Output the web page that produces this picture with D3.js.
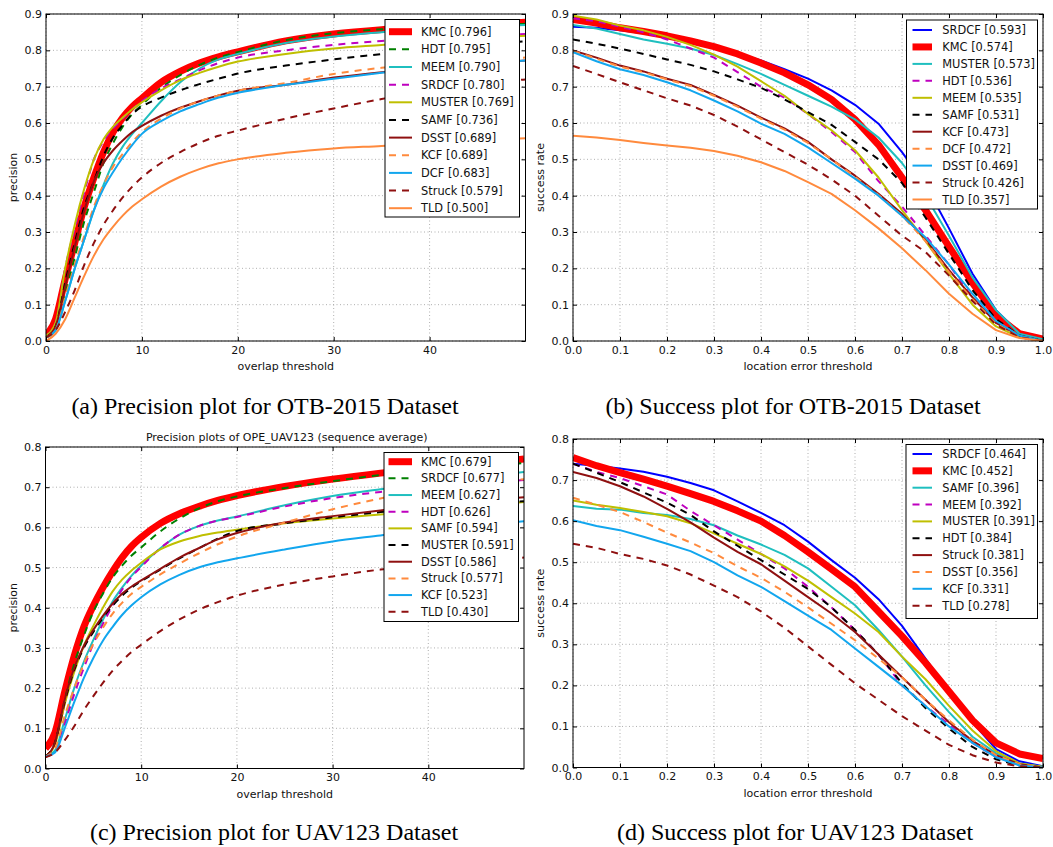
<!DOCTYPE html>
<html>
<head>
<meta charset="utf-8">
<script src="https://cdn.jsdelivr.net/npm/d3@7"></script>
<style>
  body { margin: 0; background: #fff; }
  svg { display: block; font-family: "DejaVu Sans", sans-serif; }
</style>
</head>
<body>
<svg id="fig" width="1053" height="847"></svg>
<script>
// thresholds
const precThresholds = [0, 1, 2, 3, 4, 5, 6, 7, 8, 9, 10, 12, 14, 16, 18, 20, 25, 30, 35, 40, 45, 50];
const succThresholds = [0, 0.05, 0.1, 0.15, 0.2, 0.25, 0.3, 0.35, 0.4, 0.45, 0.5, 0.55, 0.6, 0.65, 0.7, 0.75, 0.8, 0.85, 0.9, 0.95, 1.0];

// (a) precision OTB-2015
const otbPrecNames = ["KMC", "HDT", "MEEM", "SRDCF", "MUSTER", "SAMF", "DSST", "KCF", "DCF", "Struck", "TLD"];
const otbPrecScores = ["0.796", "0.795", "0.790", "0.780", "0.769", "0.736", "0.689", "0.689", "0.683", "0.579", "0.500"];
const otbPrecValues = [
  [0.015, 0.06, 0.17, 0.27, 0.37, 0.45, 0.52, 0.575, 0.615, 0.645, 0.668, 0.712, 0.742, 0.765, 0.782, 0.796, 0.826, 0.845, 0.857, 0.865, 0.871, 0.877],
  [0.01, 0.04, 0.13, 0.23, 0.33, 0.41, 0.49, 0.545, 0.59, 0.625, 0.65, 0.697, 0.732, 0.76, 0.78, 0.795, 0.828, 0.847, 0.858, 0.864, 0.869, 0.873],
  [0.01, 0.03, 0.11, 0.2, 0.28, 0.36, 0.43, 0.49, 0.535, 0.57, 0.6, 0.66, 0.712, 0.75, 0.775, 0.79, 0.82, 0.838, 0.85, 0.858, 0.865, 0.87],
  [0.015, 0.05, 0.2, 0.31, 0.41, 0.5, 0.55, 0.585, 0.612, 0.638, 0.66, 0.695, 0.72, 0.745, 0.765, 0.78, 0.8, 0.815, 0.826, 0.834, 0.84, 0.845],
  [0.015, 0.05, 0.2, 0.32, 0.42, 0.5, 0.555, 0.59, 0.615, 0.638, 0.657, 0.69, 0.718, 0.738, 0.755, 0.769, 0.79, 0.805, 0.815, 0.825, 0.833, 0.84],
  [0.01, 0.04, 0.16, 0.27, 0.37, 0.44, 0.51, 0.56, 0.595, 0.625, 0.645, 0.67, 0.69, 0.707, 0.722, 0.736, 0.758, 0.775, 0.79, 0.805, 0.816, 0.825],
  [0.01, 0.04, 0.15, 0.26, 0.36, 0.44, 0.49, 0.525, 0.552, 0.575, 0.592, 0.62, 0.642, 0.66, 0.676, 0.689, 0.705, 0.725, 0.74, 0.752, 0.763, 0.772],
  [0.01, 0.03, 0.12, 0.21, 0.29, 0.37, 0.43, 0.48, 0.515, 0.548, 0.575, 0.612, 0.64, 0.66, 0.676, 0.689, 0.71, 0.735, 0.752, 0.765, 0.773, 0.78],
  [0.01, 0.03, 0.11, 0.2, 0.28, 0.36, 0.42, 0.465, 0.505, 0.54, 0.57, 0.605, 0.632, 0.652, 0.67, 0.683, 0.705, 0.722, 0.738, 0.752, 0.763, 0.772],
  [0.01, 0.03, 0.08, 0.14, 0.21, 0.27, 0.32, 0.36, 0.395, 0.425, 0.45, 0.49, 0.52, 0.545, 0.565, 0.579, 0.612, 0.64, 0.666, 0.69, 0.706, 0.72],
  [0.0, 0.02, 0.06, 0.12, 0.18, 0.235, 0.28, 0.315, 0.345, 0.37, 0.39, 0.425, 0.452, 0.473, 0.489, 0.5, 0.518, 0.53, 0.537, 0.545, 0.552, 0.558]
];

// (b) success OTB-2015
const otbSuccNames = ["SRDCF", "KMC", "MUSTER", "HDT", "MEEM", "SAMF", "KCF", "DCF", "DSST", "Struck", "TLD"];
const otbSuccScores = ["0.593", "0.574", "0.573", "0.536", "0.535", "0.531", "0.473", "0.472", "0.469", "0.426", "0.357"];
const otbSuccValues = [
  [0.865, 0.862, 0.855, 0.847, 0.838, 0.826, 0.81, 0.792, 0.772, 0.748, 0.722, 0.69, 0.65, 0.598, 0.52, 0.43, 0.31, 0.185, 0.085, 0.022, 0.005],
  [0.885, 0.875, 0.862, 0.852, 0.84, 0.826, 0.81, 0.79, 0.765, 0.738, 0.705, 0.665, 0.61, 0.54, 0.45, 0.36, 0.26, 0.16, 0.07, 0.02, 0.005],
  [0.87, 0.86, 0.845, 0.83, 0.818, 0.805, 0.787, 0.762, 0.735, 0.705, 0.675, 0.645, 0.61, 0.56, 0.49, 0.4, 0.29, 0.175, 0.085, 0.02, 0.005],
  [0.888, 0.88, 0.865, 0.85, 0.83, 0.805, 0.78, 0.74, 0.7, 0.67, 0.625, 0.575, 0.52, 0.44, 0.37, 0.29, 0.21, 0.12, 0.05, 0.01, 0.0],
  [0.895, 0.885, 0.868, 0.855, 0.837, 0.815, 0.788, 0.755, 0.715, 0.675, 0.625, 0.58, 0.525, 0.45, 0.36, 0.275, 0.185, 0.1, 0.04, 0.01, 0.0],
  [0.83, 0.818, 0.805, 0.79, 0.775, 0.76, 0.742, 0.72, 0.697, 0.665, 0.63, 0.595, 0.548, 0.5, 0.435, 0.34, 0.24, 0.14, 0.06, 0.015, 0.0],
  [0.8, 0.78, 0.758, 0.742, 0.722, 0.705, 0.677, 0.648, 0.615, 0.585, 0.548, 0.5, 0.455, 0.405, 0.35, 0.28, 0.195, 0.12, 0.05, 0.015, 0.0],
  [0.798, 0.777, 0.755, 0.74, 0.72, 0.702, 0.675, 0.645, 0.612, 0.582, 0.545, 0.5, 0.452, 0.402, 0.345, 0.275, 0.19, 0.115, 0.048, 0.012, 0.0],
  [0.795, 0.77, 0.748, 0.732, 0.712, 0.69, 0.662, 0.632, 0.598, 0.57, 0.533, 0.49, 0.447, 0.4, 0.345, 0.285, 0.21, 0.13, 0.055, 0.015, 0.0],
  [0.757, 0.735, 0.712, 0.69, 0.668, 0.648, 0.622, 0.59, 0.555, 0.52, 0.485, 0.445, 0.4, 0.345, 0.29, 0.245, 0.18, 0.11, 0.045, 0.01, 0.0],
  [0.565, 0.56, 0.553, 0.545, 0.538, 0.532, 0.523, 0.51, 0.492, 0.468, 0.437, 0.405, 0.36, 0.31, 0.255, 0.195, 0.13, 0.075, 0.03, 0.008, 0.0]
];

// (c) precision UAV123
const uavPrecNames = ["KMC", "SRDCF", "MEEM", "HDT", "SAMF", "MUSTER", "DSST", "Struck", "KCF", "TLD"];
const uavPrecScores = ["0.679", "0.677", "0.627", "0.626", "0.594", "0.591", "0.586", "0.577", "0.523", "0.430"];
const uavPrecValues = [
  [0.05, 0.09, 0.19, 0.28, 0.352, 0.405, 0.45, 0.49, 0.525, 0.553, 0.575, 0.61, 0.634, 0.652, 0.667, 0.679, 0.702, 0.72, 0.735, 0.748, 0.758, 0.77],
  [0.03, 0.065, 0.17, 0.26, 0.33, 0.39, 0.435, 0.475, 0.505, 0.53, 0.55, 0.59, 0.622, 0.647, 0.665, 0.677, 0.698, 0.715, 0.73, 0.741, 0.75, 0.76],
  [0.03, 0.045, 0.12, 0.2, 0.265, 0.32, 0.37, 0.415, 0.45, 0.48, 0.505, 0.548, 0.582, 0.603, 0.617, 0.627, 0.655, 0.678, 0.695, 0.71, 0.724, 0.738],
  [0.03, 0.04, 0.11, 0.185, 0.25, 0.31, 0.36, 0.405, 0.445, 0.477, 0.502, 0.548, 0.582, 0.603, 0.617, 0.626, 0.652, 0.673, 0.688, 0.698, 0.708, 0.718],
  [0.03, 0.06, 0.16, 0.24, 0.305, 0.355, 0.4, 0.44, 0.47, 0.493, 0.512, 0.545, 0.565, 0.578, 0.587, 0.594, 0.61, 0.622, 0.632, 0.642, 0.652, 0.663],
  [0.03, 0.065, 0.165, 0.245, 0.3, 0.34, 0.375, 0.405, 0.43, 0.45, 0.466, 0.495, 0.523, 0.548, 0.572, 0.591, 0.61, 0.625, 0.638, 0.648, 0.657, 0.665],
  [0.03, 0.065, 0.17, 0.25, 0.305, 0.345, 0.38, 0.41, 0.435, 0.453, 0.468, 0.497, 0.525, 0.548, 0.57, 0.586, 0.612, 0.628, 0.642, 0.655, 0.665, 0.675],
  [0.03, 0.05, 0.13, 0.2, 0.26, 0.31, 0.35, 0.385, 0.412, 0.435, 0.452, 0.483, 0.51, 0.535, 0.558, 0.577, 0.612, 0.645, 0.672, 0.695, 0.71, 0.72],
  [0.03, 0.04, 0.1, 0.165, 0.225, 0.275, 0.318, 0.352, 0.382, 0.406, 0.426, 0.458, 0.482, 0.5, 0.513, 0.523, 0.545, 0.565, 0.58, 0.595, 0.605, 0.615],
  [0.028, 0.04, 0.07, 0.105, 0.145, 0.18, 0.213, 0.243, 0.268, 0.29, 0.308, 0.342, 0.371, 0.395, 0.414, 0.43, 0.458, 0.478, 0.495, 0.505, 0.515, 0.525]
];

// (d) success UAV123
const uavSuccNames = ["SRDCF", "KMC", "SAMF", "MEEM", "MUSTER", "HDT", "Struck", "DSST", "KCF", "TLD"];
const uavSuccScores = ["0.464", "0.452", "0.396", "0.392", "0.391", "0.384", "0.381", "0.356", "0.331", "0.278"];
const uavSuccValues = [
  [0.74, 0.735, 0.728, 0.72, 0.708, 0.693, 0.675, 0.648, 0.62, 0.59, 0.55, 0.505, 0.462, 0.41, 0.345, 0.265, 0.185, 0.11, 0.045, 0.015, 0.003],
  [0.755, 0.735, 0.718, 0.702, 0.685, 0.667, 0.648, 0.625, 0.6, 0.565, 0.525, 0.483, 0.44, 0.38, 0.32, 0.255, 0.185, 0.115, 0.06, 0.033, 0.022],
  [0.637, 0.63, 0.628, 0.62, 0.615, 0.605, 0.59, 0.565, 0.543, 0.518, 0.485, 0.44, 0.395, 0.335, 0.27, 0.2, 0.135, 0.075, 0.035, 0.01, 0.002],
  [0.74, 0.72, 0.705, 0.685, 0.665, 0.625, 0.59, 0.555, 0.52, 0.485, 0.44, 0.39, 0.335, 0.275, 0.2, 0.15, 0.105, 0.06, 0.025, 0.005, 0.0],
  [0.65, 0.64, 0.632, 0.622, 0.612, 0.595, 0.57, 0.545, 0.52, 0.49, 0.455, 0.415, 0.375, 0.33, 0.27, 0.215, 0.15, 0.09, 0.04, 0.01, 0.002],
  [0.74, 0.718, 0.695, 0.67, 0.645, 0.615, 0.575, 0.54, 0.505, 0.47, 0.435, 0.39, 0.335, 0.275, 0.205, 0.145, 0.095, 0.05, 0.02, 0.005, 0.0],
  [0.72, 0.705, 0.685, 0.66, 0.63, 0.597, 0.56, 0.525, 0.495, 0.455, 0.415, 0.375, 0.33, 0.275, 0.22, 0.165, 0.11, 0.065, 0.03, 0.008, 0.0],
  [0.657, 0.64, 0.622, 0.598, 0.572, 0.548, 0.522, 0.49, 0.462, 0.428, 0.39, 0.35, 0.31, 0.265, 0.22, 0.165, 0.115, 0.068, 0.03, 0.008, 0.0],
  [0.602, 0.588, 0.578, 0.562, 0.545, 0.527, 0.5, 0.468, 0.44, 0.405, 0.37, 0.335, 0.29, 0.245, 0.2, 0.15, 0.1, 0.06, 0.025, 0.005, 0.0],
  [0.545, 0.535, 0.52, 0.508, 0.492, 0.47, 0.443, 0.415, 0.38, 0.34, 0.295, 0.25, 0.205, 0.165, 0.125, 0.09, 0.055, 0.03, 0.012, 0.003, 0.0]
];

// line styles
const DASH = "7,6";
const sRed = { color: "#ff0000", width: 7, dash: null };
const sGreenD = { color: "#008000", width: 2, dash: DASH };
const sCyan = { color: "#1fbfbf", width: 2, dash: null };
const sMagentaD = { color: "#bf00bf", width: 2, dash: DASH };
const sOlive = { color: "#bfbf00", width: 2, dash: null };
const sBlackD = { color: "#000000", width: 2, dash: DASH };
const sMaroon = { color: "#8f1010", width: 2, dash: null };
const sOrangeD = { color: "#ff8a3d", width: 2, dash: DASH };
const sSky = { color: "#12a6ee", width: 2, dash: null };
const sMaroonD = { color: "#8f1010", width: 2, dash: DASH };
const sOrange = { color: "#ff8a3d", width: 2, dash: null };
const sBlue = { color: "#0000ff", width: 2, dash: null };

var svg = d3.select("#fig");

function drawPanel(p) {
    var x = d3.scaleLinear().domain(p.xDomain).range([p.left, p.right]);
    var y = d3.scaleLinear().domain(p.yDomain).range([p.bottom, p.top]);
    var g = svg.append("g");

    // сетка
    g.append("g").selectAll("line").data(p.xTicks).enter().append("line")
        .attr("x1", d => x(d)).attr("x2", d => x(d))
        .attr("y1", p.top).attr("y2", p.bottom)
        .attr("stroke", "#9a9a9a").attr("stroke-width", 0.8).attr("stroke-dasharray", "1,2.5");
    g.append("g").selectAll("line").data(p.yTicks).enter().append("line")
        .attr("x1", p.left).attr("x2", p.right)
        .attr("y1", d => y(d)).attr("y2", d => y(d))
        .attr("stroke", "#9a9a9a").attr("stroke-width", 0.8).attr("stroke-dasharray", "1,2.5");

    // кривые
    var clipId = "clip-" + p.id;
    svg.append("clipPath").attr("id", clipId).append("rect")
        .attr("x", p.left).attr("y", p.top)
        .attr("width", p.right - p.left).attr("height", p.bottom - p.top);

    var line = d3.line()
        .x((d, i) => x(p.xs[i]))
        .y(d => y(d))
        .curve(p.smooth ? d3.curveMonotoneX : d3.curveLinear);

    var curves = g.append("g").attr("clip-path", `url(#${clipId})`);
    p.values.forEach(function(vals, i) {
        var s = p.styles[i];
        curves.append("path")
            .datum(vals)
            .attr("d", line)
            .attr("fill", "none")
            .attr("stroke", s.color)
            .attr("stroke-width", s.width)
            .attr("stroke-dasharray", s.dash)
            .attr("stroke-linejoin", "round");
    });

    // оси
    var fmtY = d3.format(".1f");
    g.append("g").attr("transform", `translate(0,${p.bottom})`)
        .call(d3.axisBottom(x).tickValues(p.xTicks).tickFormat(p.xFormat).tickSizeInner(-4).tickSizeOuter(0).tickPadding(5))
        .call(ax => ax.select(".domain").remove());
    g.append("g").attr("transform", `translate(0,${p.top})`)
        .call(d3.axisTop(x).tickValues(p.xTicks).tickFormat("").tickSizeInner(-4).tickSizeOuter(0))
        .call(ax => ax.select(".domain").remove());
    g.append("g").attr("transform", `translate(${p.left},0)`)
        .call(d3.axisLeft(y).tickValues(p.yTicks).tickFormat(fmtY).tickSizeInner(-4).tickSizeOuter(0).tickPadding(4))
        .call(ax => ax.select(".domain").remove());
    g.append("g").attr("transform", `translate(${p.right},0)`)
        .call(d3.axisRight(y).tickValues(p.yTicks).tickFormat("").tickSizeInner(-4).tickSizeOuter(0))
        .call(ax => ax.select(".domain").remove());
    g.selectAll(".tick text").attr("font-size", 11).attr("fill", "#111")
        .attr("font-family", "DejaVu Sans");
    g.selectAll(".tick line").attr("stroke", "#000");

    g.append("rect")
        .attr("x", p.left).attr("y", p.top)
        .attr("width", p.right - p.left).attr("height", p.bottom - p.top)
        .attr("fill", "none").attr("stroke", "#000").attr("stroke-width", 1);

    // подписи осей
    g.append("text")
        .attr("x", (p.left + p.right) / 2).attr("y", p.bottom + 26)
        .attr("text-anchor", "middle").attr("dominant-baseline", "middle")
        .attr("font-size", 11).attr("fill", "#111")
        .text(p.xLabel);
    g.append("text")
        .attr("transform", `translate(${p.left - 32},${(p.top + p.bottom) / 2}) rotate(-90)`)
        .attr("text-anchor", "middle").attr("dominant-baseline", "middle")
        .attr("font-size", 11).attr("fill", "#111")
        .text(p.yLabel);
    if (p.title) {
        g.append("text")
            .attr("x", (p.left + p.right) / 2 + 2).attr("y", p.top - 9)
            .attr("text-anchor", "middle").attr("dominant-baseline", "middle")
            .attr("font-size", 11).attr("fill", "#111")
            .text(p.title);
    }

    // легенда
    var L = p.legend;
    var lg = g.append("g");
    lg.append("rect")
        .attr("x", L.x0).attr("y", L.y0)
        .attr("width", L.x1 - L.x0).attr("height", L.y1 - L.y0)
        .attr("fill", "#fff").attr("stroke", "#000").attr("stroke-width", 1);
    p.names.forEach(function(name, i) {
        var s = p.styles[i];
        var yy = L.row0 + i * L.dy;
        lg.append("line")
            .attr("x1", L.lx0).attr("x2", L.lx1)
            .attr("y1", yy).attr("y2", yy)
            .attr("stroke", s.color).attr("stroke-width", s.width)
            .attr("stroke-dasharray", s.dash);
        lg.append("text")
            .attr("x", L.tx).attr("y", yy)
            .attr("dominant-baseline", "central")
            .attr("font-size", 11.4).attr("fill", "#111")
            .text(`${name} [${p.scores[i]}]`);
    });

    // подпись рисунка
    svg.append("text")
        .attr("x", p.capX).attr("y", p.capY)
        .attr("text-anchor", "middle").attr("dominant-baseline", "middle")
        .style("font-family", "'Liberation Serif', 'Times New Roman', serif")
        .style("font-size", "24px").attr("fill", "#000")
        .text(p.caption);
}

var precXTicks = [0, 10, 20, 30, 40];
var succXTicks = [0, 0.1, 0.2, 0.3, 0.4, 0.5, 0.6, 0.7, 0.8, 0.9, 1.0];
var topYTicks = [0, 0.1, 0.2, 0.3, 0.4, 0.5, 0.6, 0.7, 0.8, 0.9];
var botYTicks = [0, 0.1, 0.2, 0.3, 0.4, 0.5, 0.6, 0.7, 0.8];

drawPanel({
    id: "a", left: 46, right: 525.5, top: 14, bottom: 341,
    xDomain: [0, 50], yDomain: [0, 0.9], xTicks: precXTicks, yTicks: topYTicks,
    xFormat: d3.format("d"), smooth: true,
    xs: precThresholds, names: otbPrecNames, scores: otbPrecScores, values: otbPrecValues,
    styles: [sRed, sGreenD, sCyan, sMagentaD, sOlive, sBlackD, sMaroon, sOrangeD, sSky, sMaroonD, sOrange],
    xLabel: "overlap threshold", yLabel: "precision",
    legend: { x0: 385, x1: 519.5, y0: 19.5, y1: 217, row0: 31.7, dy: 17.65, lx0: 389, lx1: 412, tx: 421 },
    caption: "(a) Precision plot for OTB-2015 Dataset", capX: 265, capY: 408
});

drawPanel({
    id: "b", left: 573, right: 1043, top: 14, bottom: 341,
    xDomain: [0, 1], yDomain: [0, 0.9], xTicks: succXTicks, yTicks: topYTicks,
    xFormat: d3.format(".1f"), smooth: false,
    xs: succThresholds, names: otbSuccNames, scores: otbSuccScores, values: otbSuccValues,
    styles: [sBlue, sRed, sCyan, sMagentaD, sOlive, sBlackD, sMaroon, sOrangeD, sSky, sMaroonD, sOrange],
    xLabel: "location error threshold", yLabel: "success rate",
    legend: { x0: 906.5, x1: 1037.5, y0: 20, y1: 209, row0: 30, dy: 16.95, lx0: 912.5, lx1: 932, tx: 942.3 },
    caption: "(b) Success plot for OTB-2015 Dataset", capX: 793, capY: 408
});

drawPanel({
    id: "c", left: 45.5, right: 524, top: 447, bottom: 768.5,
    xDomain: [0, 50], yDomain: [0, 0.8], xTicks: precXTicks, yTicks: botYTicks,
    xFormat: d3.format("d"), smooth: true,
    xs: precThresholds, names: uavPrecNames, scores: uavPrecScores, values: uavPrecValues,
    styles: [sRed, sGreenD, sCyan, sMagentaD, sOlive, sBlackD, sMaroon, sOrangeD, sSky, sMaroonD],
    xLabel: "overlap threshold", yLabel: "precision",
    title: "Precision plots of OPE_UAV123 (sequence average)",
    legend: { x0: 384, x1: 518.5, y0: 452.5, y1: 621.5, row0: 461.7, dy: 16.67, lx0: 388.5, lx1: 412, tx: 421 },
    caption: "(c) Precision plot for UAV123 Dataset", capX: 274, capY: 834
});

drawPanel({
    id: "d", left: 573, right: 1043, top: 439, bottom: 767.5,
    xDomain: [0, 1], yDomain: [0, 0.8], xTicks: succXTicks, yTicks: botYTicks,
    xFormat: d3.format(".1f"), smooth: false,
    xs: succThresholds, names: uavSuccNames, scores: uavSuccScores, values: uavSuccValues,
    styles: [sBlue, sRed, sCyan, sMagentaD, sOlive, sBlackD, sMaroon, sOrangeD, sSky, sMaroonD],
    xLabel: "location error threshold", yLabel: "success rate",
    legend: { x0: 906, x1: 1037.5, y0: 444.5, y1: 618.5, row0: 454, dy: 16.85, lx0: 912.5, lx1: 932, tx: 942.3 },
    caption: "(d) Success plot for UAV123 Dataset", capX: 795, capY: 834
});
</script>
</body>
</html>
